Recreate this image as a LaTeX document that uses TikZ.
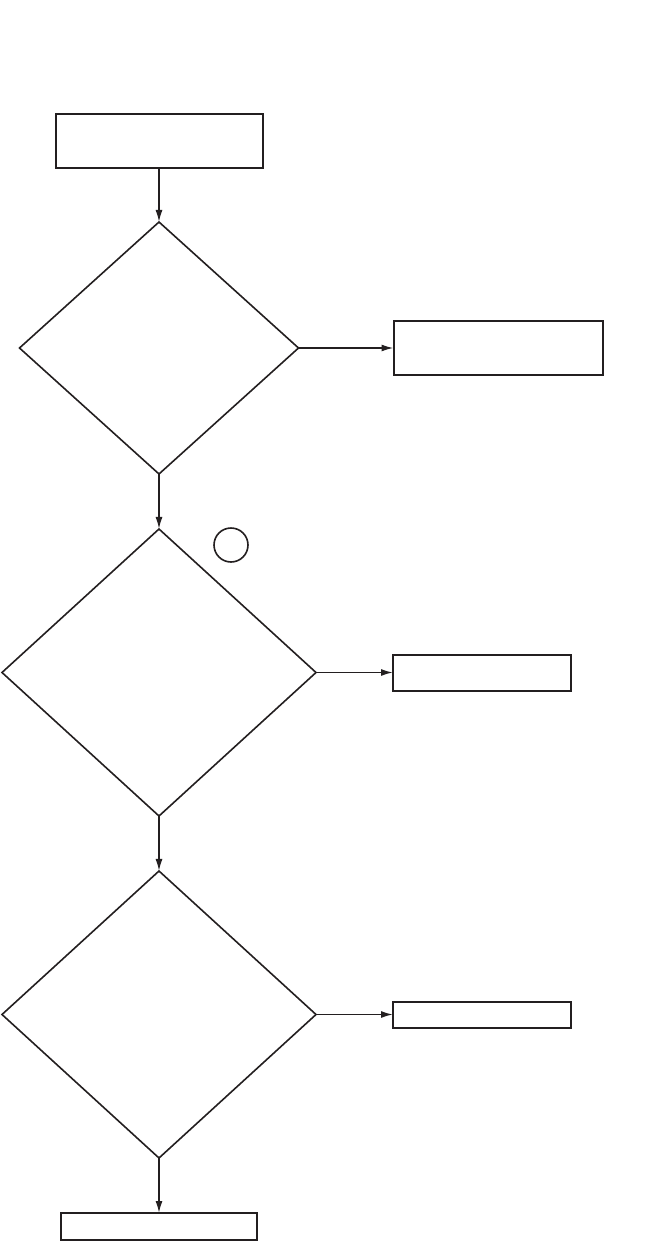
\documentclass[tikz,border=0pt]{standalone}
\usepackage{xcolor}
\usepackage{tikz}
\usetikzlibrary{arrows.meta,positioning,shapes.geometric}
\definecolor{ink}{RGB}{35,31,32}

\begin{document}
\begin{tikzpicture}[x=1pt,y=-1pt,
  box/.style={rectangle,draw=ink,line width=2pt,inner sep=0pt,outer sep=0pt},
  test/.style={diamond,draw=ink,line width=1.6pt,inner sep=0pt,outer sep=0pt},
  arrow/.style={-{Latex[length=12pt,width=7pt]},draw=ink,line width=1.6pt}
]
\useasboundingbox (0,0) rectangle (663,1241);
\node[box,minimum width=207pt,minimum height=54pt] (start) at (159,141) {};
\node[test,minimum width=279pt,minimum height=252pt,below=54pt of start] (ask1) {};
\node[box,minimum width=209pt,minimum height=54pt,right=95pt of ask1] (out1) {};
\node[test,minimum width=314pt,minimum height=287pt,below=55pt of ask1] (ask2) {};
\node[circle,draw=ink,line width=1.6pt,minimum size=34pt,inner sep=0pt] (mark2) at (231,545) {};
\node[box,minimum width=178pt,minimum height=36pt,right=77pt of ask2] (out2) {};
\node[test,minimum width=314pt,minimum height=287pt,below=55pt of ask2] (ask3) {};
\node[box,minimum width=178pt,minimum height=26pt,right=77pt of ask3] (out3) {};
\node[box,minimum width=196pt,minimum height=27pt,below=55pt of ask3] (stop) {};
\draw[arrow] (start) -- (ask1);
\draw[arrow] (ask1) -- (out1);
\draw[arrow] (ask1) -- (ask2);
\draw[arrow] (ask2) -- (out2);
\draw[arrow] (ask2) -- (ask3);
\draw[arrow] (ask3) -- (out3);
\draw[arrow] (ask3) -- (stop);
\end{tikzpicture}
\end{document}
